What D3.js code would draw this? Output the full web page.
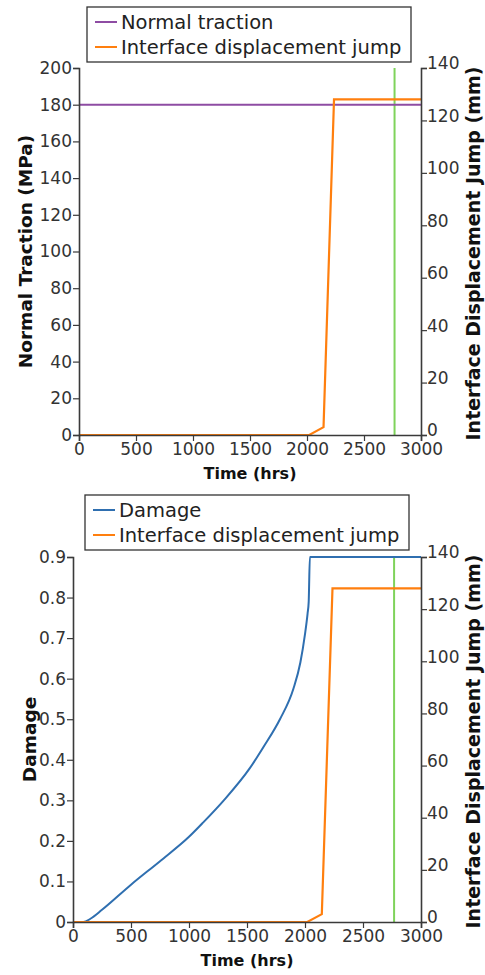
<!DOCTYPE html>
<html>
<head>
<meta charset="utf-8">
<script src="https://cdn.jsdelivr.net/npm/d3@7"></script>
<style>
  body { margin: 0; background: #fff; }
  svg { display: block; }
  text { font-family: "DejaVu Sans", sans-serif; }
</style>
</head>
<body>
<div id="main"></div>
<script>
// values
const tractionTime = [0, 3000];
const tractionValues = [180, 180];

const jumpTime = [0, 2020, 2145, 2237, 3000];
const jumpValues = [0, 0, 3, 128, 128];

const damageTime = [0, 90, 150, 250, 500, 750, 1000, 1121, 1300, 1526, 1650, 1784, 1900, 1960, 2000, 2022, 2032, 2042, 3000];
const damageValues = [0, 0, 0.008, 0.03, 0.092, 0.15, 0.21, 0.245, 0.3, 0.38, 0.435, 0.5, 0.575, 0.64, 0.71, 0.76, 0.79, 0.9, 0.9];

const markerTime = 2768;

const timeTicks = [0, 500, 1000, 1500, 2000, 2500, 3000];
const tractionTicks = [0, 20, 40, 60, 80, 100, 120, 140, 160, 180, 200];
const damageTicks = [0, 0.1, 0.2, 0.3, 0.4, 0.5, 0.6, 0.7, 0.8, 0.9];
const jumpTicks = [0, 20, 40, 60, 80, 100, 120, 140];

let width = 485;
let height = 975;

const colors = {
	traction: "#8e4ca3",
	jump: "#ff7f0e",
	damage: "#2f6fb0",
	marker: "#7fd35b",
	axis: "#3a3a3a",
};

var svg = d3.select("#main")
	.append("svg")
	.attr("width", width)
	.attr("height", height);

function drawPanel(p) {
	var g = svg.append("g");

	var x = d3.scaleLinear().domain([0, 3000]).range([p.left, p.right]);
	var yl = d3.scaleLinear().domain(p.leftDomain).range([p.bottom, p.top]);
	var yr = d3.scaleLinear().domain([0, 140]).range([p.bottom, p.top]);

	var line = function (xs, ys, yScale, curve) {
		return d3.line()
			.curve(curve || d3.curveLinear)
			.x(function (d) { return x(d[0]); })
			.y(function (d) { return yScale(d[1]); })(d3.zip(xs, ys));
	};

	// marker line
	g.append("line")
		.attr("x1", x(markerTime)).attr("x2", x(markerTime))
		.attr("y1", yr(0)).attr("y2", yr(140))
		.attr("stroke", colors.marker)
		.attr("stroke-width", 2);

	// series
	g.append("path")
		.attr("d", line(p.leftTime, p.leftValues, yl, d3.curveMonotoneX))
		.attr("fill", "none")
		.attr("stroke", p.leftColor)
		.attr("stroke-width", 2);

	g.append("path")
		.attr("d", line(jumpTime, jumpValues, yr))
		.attr("fill", "none")
		.attr("stroke", colors.jump)
		.attr("stroke-width", 2.2);

	// axes
	var axL = g.append("g")
		.attr("transform", "translate(" + p.left + ",0)")
		.call(d3.axisLeft(yl).tickValues(p.leftTicks).tickSize(6).tickPadding(1).tickFormat(p.leftFormat));
	var axR = g.append("g")
		.attr("transform", "translate(" + p.right + ",0)")
		.call(d3.axisRight(yr).tickValues(jumpTicks).tickSize(6).tickPadding(0).tickFormat(d3.format("d")));
	var axB = g.append("g")
		.attr("transform", "translate(0," + p.bottom + ")")
		.call(d3.axisBottom(x).tickValues(timeTicks).tickSize(6).tickPadding(2).tickFormat(d3.format("d")));

	[axL, axR, axB].forEach(function (a) {
		a.select(".domain").attr("stroke", colors.axis).attr("stroke-width", 1.6);
		a.selectAll(".tick line").attr("stroke", colors.axis).attr("stroke-width", 1.2);
		a.selectAll(".tick text")
			.attr("fill", "#333")
			.style("font-family", "DejaVu Sans")
			.style("font-size", "17px");
	});
	axR.selectAll(".tick text").attr("dy", "0.05em");

	// axis titles
	g.append("text")
		.attr("x", (p.left + p.right) / 2)
		.attr("y", p.bottom + 44)
		.attr("text-anchor", "middle")
		.style("font-size", "16px")
		.style("font-weight", "bold")
		.attr("fill", "#111")
		.text("Time (hrs)");

	g.append("text")
		.attr("transform", "translate(" + p.leftTitleX + "," + (p.top + p.bottom) / 2 + ") rotate(-90)")
		.attr("text-anchor", "middle")
		.style("font-size", "18.5px")
		.style("font-weight", "bold")
		.attr("fill", "#111")
		.text(p.leftTitle);

	g.append("text")
		.attr("transform", "translate(480," + ((p.top + p.bottom) / 2 + 2) + ") rotate(-90)")
		.attr("text-anchor", "middle")
		.style("font-size", "19px")
		.style("font-weight", "bold")
		.attr("fill", "#111")
		.text("Interface Displacement Jump (mm)");

	// legend
	var lg = g.append("g");
	lg.append("rect")
		.attr("x", p.legend[0]).attr("y", p.legend[1])
		.attr("width", p.legend[2]).attr("height", p.legend[3])
		.attr("fill", "#fff")
		.attr("stroke", "#333")
		.attr("stroke-width", 1.3);

	var items = [
		{ name: p.leftName, color: p.leftColor },
		{ name: "Interface displacement jump", color: colors.jump },
	];
	items.forEach(function (d, i) {
		var cy = p.legend[1] + 15 + i * 25;
		lg.append("line")
			.attr("x1", p.legend[0] + 8).attr("x2", p.legend[0] + 30)
			.attr("y1", cy).attr("y2", cy)
			.attr("stroke", d.color)
			.attr("stroke-width", 2);
		lg.append("text")
			.attr("x", p.legend[0] + 34)
			.attr("y", cy)
			.attr("dy", "0.35em")
			.style("font-size", "19.5px")
			.attr("fill", "#222")
			.text(d.name);
	});
}

drawPanel({
	left: 79, right: 421, top: 68, bottom: 435,
	leftDomain: [0, 200],
	leftTicks: tractionTicks,
	leftFormat: d3.format("d"),
	leftTime: tractionTime,
	leftValues: tractionValues,
	leftColor: colors.traction,
	leftName: "Normal traction",
	leftTitle: "Normal Traction (MPa)",
	leftTitleX: 32,
	legend: [87, 7, 324, 55],
});

drawPanel({
	left: 73, right: 421, top: 557, bottom: 922,
	leftDomain: [0, 0.9],
	leftTicks: damageTicks,
	leftFormat: function (d) { return d === 0 ? "0" : d3.format(".1f")(d); },
	leftTime: damageTime,
	leftValues: damageValues,
	leftColor: colors.damage,
	leftName: "Damage",
	leftTitle: "Damage",
	leftTitleX: 36,
	legend: [85, 495, 324, 55],
});
</script>
</body>
</html>
